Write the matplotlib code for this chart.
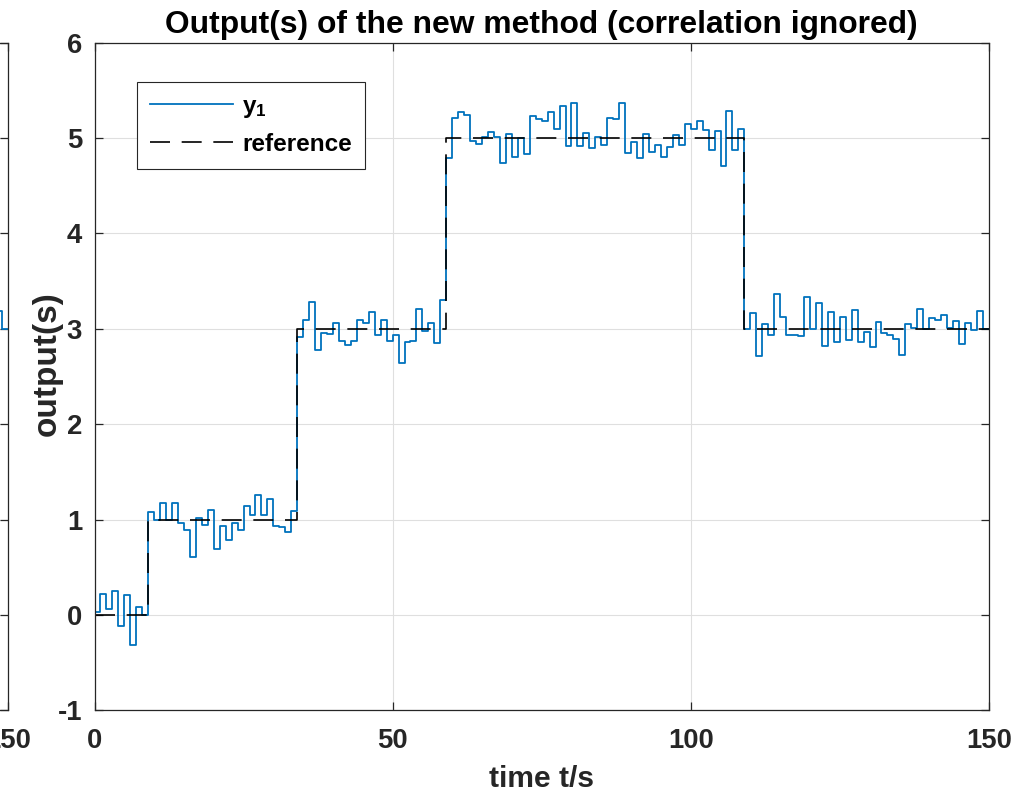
import numpy as np
import matplotlib
matplotlib.use("Agg")
import matplotlib.pyplot as plt

plt.rcParams['font.family'] = ['Liberation Sans', 'DejaVu Sans']
plt.rcParams['mathtext.fontset'] = 'custom'
plt.rcParams['mathtext.rm'] = 'Liberation Sans'
plt.rcParams['mathtext.bf'] = 'Liberation Sans:bold'
plt.rcParams['mathtext.it'] = 'Liberation Sans:italic'
plt.rcParams['axes.unicode_minus'] = False

# ---------------- data ----------------
y1 = [0.03, 0.22, 0.06, 0.25, -0.11, 0.21, -0.31, 0.08, 0.00,
      1.08, 1.00, 1.17, 1.00, 1.17, 0.96, 0.89, 0.61, 1.02, 0.94, 1.10, 0.69, 0.93,
      0.79, 0.96, 0.89, 1.14, 1.05, 1.26, 1.05, 1.22, 0.93, 0.92, 0.87, 1.09,
      2.91, 3.09, 3.28, 2.78, 2.96, 2.95, 3.06, 2.87, 2.83, 2.87, 3.09, 3.06, 3.18,
      2.93, 3.09, 2.87, 2.93, 2.64, 2.86, 2.87, 3.21, 2.98, 3.06, 2.85, 3.30,
      4.79, 5.21, 5.27, 5.24, 4.97, 4.94, 5.01, 5.06, 5.01, 4.74, 5.04, 4.80, 5.00,
      4.83, 5.23, 5.20, 5.18, 5.27, 5.09, 5.33, 4.92, 5.37, 4.92, 5.05, 4.89, 5.01,
      4.93, 5.21, 5.20, 5.37,
      4.84, 4.96, 4.79, 5.04, 4.85, 4.93, 4.80, 4.90, 5.03, 4.93, 5.15, 5.09, 5.18,
      5.08, 4.87, 5.07, 4.71, 5.28, 4.87, 5.09,
      3.00, 3.17, 2.71, 3.05, 2.93, 3.36, 3.12, 2.94, 2.93, 2.92, 3.33, 3.00, 3.27,
      2.82, 3.18, 2.86, 3.12, 2.88, 3.20, 2.86, 2.97,
      2.81, 3.07, 2.96, 2.93, 2.89, 2.73, 3.05, 3.01, 3.21, 3.00, 3.11, 3.09, 3.14,
      3.01, 3.08, 2.84, 3.06, 2.99, 3.19, 3.00]
ref_t = [0, 9, 34, 59, 109, 150]
ref_v = [0, 1, 3, 5, 3, 3]

xticks = [0, 50, 100, 150]
yticks = [-1, 0, 1, 2, 3, 4, 5, 6]
title = "Output(s) of the new method (correlation ignored)"
xlabel = "time t/s"
ylabel = "output(s)"
legend_labels = [r"$\mathbf{y}_{\mathbf{1}}$", "reference"]

# ---------------- style ----------------
AX_COL = '#262626'
BLUE = '#0072BD'
GRID = '#dfdfdf'
TICK_FS = 19.8

fig = plt.figure(figsize=(10.24, 7.95), dpi=100)

t = np.arange(len(y1) + 1)
yy = np.append(y1, y1[-1])

def style_axes(ax):
    ax.set_xlim(0, 150)
    ax.set_ylim(-1, 6)
    ax.set_xticks(xticks)
    ax.set_yticks(yticks)
    ax.grid(True, color=GRID, linewidth=0.8)
    ax.set_axisbelow(True)
    for s in ax.spines.values():
        s.set_color(AX_COL)
        s.set_linewidth(0.9)
    ax.tick_params(direction='in', top=True, right=True, length=5.8, width=0.9,
                   color=AX_COL, labelcolor=AX_COL, labelsize=TICK_FS)
    ax.tick_params(axis='x', pad=12.5)
    ax.tick_params(axis='y', pad=9)
    for lab in ax.get_xticklabels() + ax.get_yticklabels():
        lab.set_fontweight('bold')

# partial neighbouring subplot on the left
w = 0.87334
ax0 = fig.add_axes([8.3 / 1024 - w, 0.10629, w, 0.84025])
ax0.step(t, yy, where='post', color=BLUE, linewidth=1.3)
style_axes(ax0)

# main axes
ax = fig.add_axes([0.09229, 0.10629, w, 0.84025])
ax.step(t, yy, where='post', color=BLUE, linewidth=1.3, label=legend_labels[0])
ax.step(ref_t, ref_v, where='post', color='black', linewidth=1.2,
        linestyle=(0, (12, 7)), label=legend_labels[1])
style_axes(ax)

ax.set_title(title, fontsize=22.9, fontweight='bold', color='black', pad=7)
ax.set_xlabel(xlabel, fontsize=21.6, fontweight='bold', color=AX_COL, labelpad=8)
ax.set_ylabel(ylabel, fontsize=24.0, fontweight='bold', color=AX_COL)
ax.yaxis.set_label_coords(-0.036, 0.52)

leg = ax.legend(loc='upper left', bbox_to_anchor=(0.0475, 0.9409), borderaxespad=0,
                fontsize=17.5, handlelength=3.45, handletextpad=0.37,
                borderpad=0.52, labelspacing=0.55, fancybox=False, framealpha=1)
leg.get_frame().set_edgecolor(AX_COL)
leg.get_frame().set_linewidth(0.8)
for txt in leg.get_texts():
    txt.set_fontweight('bold')
    txt.set_color('black')

fig.savefig('out.png', dpi=100)
